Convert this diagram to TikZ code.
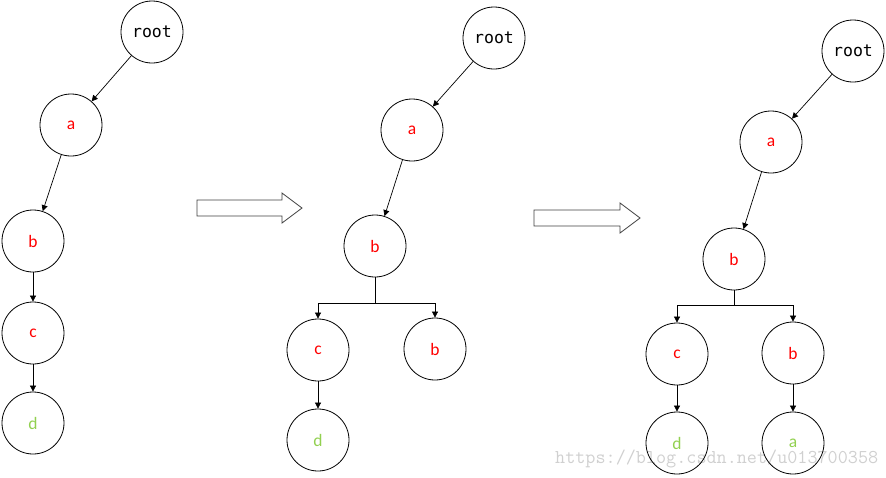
\documentclass[tikz,border=0pt]{standalone}
\usepackage{fontspec}
\setmainfont{Carlito}
\newfontfamily\rootfont{DejaVu Sans Mono}
\usetikzlibrary{arrows.meta}
\definecolor{lred}{HTML}{FF0000}
\definecolor{lgreen}{HTML}{92D050}
\definecolor{wm}{HTML}{D0D0D0}
\tikzset{
  tn/.style={circle,draw=black,line width=0.8pt,minimum size=62pt,inner sep=0pt,font=\fontsize{17.5}{17.5}\selectfont},
  rn/.style={tn,font=\rootfont\fontsize{16.5}{16.5}\selectfont},
  redt/.style={text=lred},
  grnt/.style={text=lgreen},
  arr/.style={-{Triangle[length=6pt,width=6pt]},line width=0.7pt},
  plain/.style={line width=0.7pt},
  blockarr/.style={draw=black!75,line width=0.8pt,fill=white}
}
\begin{document}
\begin{tikzpicture}[x=1pt,y=-1pt]
\useasboundingbox (0,0) rectangle (886,477);
% watermark
\node[anchor=base west,inner sep=0pt,text=wm,font=\ttfamily\fontsize{19.6}{19.6}\selectfont] (wmk) at (555,463) {https://blog.csdn.net/u013700358};
% tree 1
\node[rn] (r1) at (152,32) {root};
\node[tn,redt] (a1) at (71,125) {a};
\node[tn,redt] (b1) at (33,241) {b};
\node[tn,redt] (c1) at (33,333) {c};
\node[tn,grnt] (d1) at (33,423) {d};
\draw[arr] (r1) -- (a1);
\draw[arr] (a1) -- (b1);
\draw[arr] (b1) -- (c1);
\draw[arr] (c1) -- (d1);
% block arrow 1
\draw[blockarr] (197,200) -- (282,200) -- (282,193) -- (302,208) -- (282,223) -- (282,216) -- (197,216) -- cycle;
% tree 2
\node[rn] (r2) at (494,38) {root};
\node[tn,redt] (a2) at (412,130) {a};
\node[tn,redt] (b2) at (375,246) {b};
\node[tn,redt] (c2) at (318,350) {c};
\node[tn,redt] (bb2) at (435,349) {b};
\node[tn,grnt] (d2) at (318,440) {d};
\coordinate (j2) at (375,303);
\draw[arr] (r2) -- (a2);
\draw[arr] (a2) -- (b2);
\draw[plain] (b2.south) -- (j2);
\draw[arr] (j2) -| (c2.north);
\draw[arr] (j2) -| (bb2.north);
\draw[arr] (c2) -- (d2);
% block arrow 2
\draw[blockarr] (534,210) -- (620,210) -- (620,203) -- (640,218) -- (620,233) -- (620,226) -- (534,226) -- cycle;
% tree 3
\node[rn] (r3) at (853,51) {root};
\node[tn,redt] (a3) at (771,142) {a};
\node[tn,redt] (b3) at (734,259) {b};
\node[tn,redt] (c3) at (677,354) {c};
\node[tn,redt] (bb3) at (793,353) {b};
\node[tn,grnt] (d3) at (677,443) {d};
\node[tn,grnt] (aa3) at (793,443) {a};
\coordinate (j3) at (734,305);
\draw[arr] (r3) -- (a3);
\draw[arr] (a3) -- (b3);
\draw[plain] (b3.south) -- (j3);
\draw[arr] (j3) -| (c3.north);
\draw[arr] (j3) -| (bb3.north);
\draw[arr] (c3) -- (d3);
\draw[arr] (bb3) -- (aa3);
\end{tikzpicture}
\end{document}
